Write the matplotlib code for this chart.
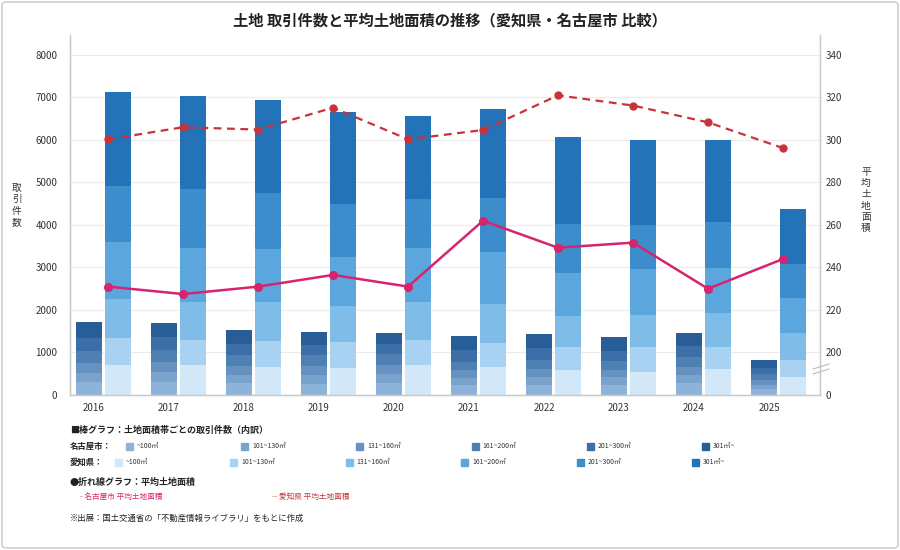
import matplotlib
matplotlib.use("Agg")
import matplotlib.pyplot as plt
from matplotlib.patches import Rectangle, FancyBboxPatch
import numpy as np

plt.rcParams["font.family"] = ["Noto Sans CJK JP", "DejaVu Sans"]

years = ["2016", "2017", "2018", "2019", "2020", "2021", "2022", "2023", "2024", "2025"]
size_bands = ["~100㎡", "101~130㎡", "131~160㎡", "161~200㎡", "201~300㎡", "301㎡~"]

# 名古屋市 取引件数 (面積帯ごと, 下から)
nagoya_100 = [299, 314, 275, 267, 275, 243, 235, 235, 282, 133]
nagoya_130 = [226, 227, 203, 204, 219, 164, 189, 181, 189, 110]
nagoya_160 = [220, 228, 204, 219, 204, 174, 188, 172, 196, 118]
nagoya_200 = [297, 290, 259, 251, 267, 195, 212, 220, 227, 133]
nagoya_300 = [306, 314, 267, 243, 243, 283, 289, 227, 259, 141]
nagoya_301 = [362, 332, 314, 306, 259, 329, 330, 330, 306, 189]

# 愛知県 取引件数
aichi_100 = [706, 698, 659, 635, 706, 659, 588, 541, 612, 416]
aichi_130 = [642, 596, 612, 612, 596, 557, 549, 596, 525, 408]
aichi_160 = [911, 894, 909, 847, 886, 933, 730, 745, 792, 635]
aichi_200 = [1349, 1279, 1255, 1153, 1263, 1224, 1011, 1083, 1059, 831]
aichi_300 = [1310, 1380, 1310, 1247, 1169, 1262, 1153, 1035, 1090, 792]
aichi_301 = [2211, 2188, 2188, 2165, 1937, 2087, 2040, 2000, 1922, 1302]

# 平均土地面積 (㎡)
nagoya_avg = [231.0, 227.5, 231.0, 236.5, 231.0, 262.0, 249.3, 251.7, 230.0, 244.0]
aichi_avg = [300.3, 306.0, 304.9, 315.2, 300.3, 304.7, 321.0, 316.2, 308.3, 296.2]

nagoya_colors = ["#8db3d9", "#79a3cc", "#6592c0", "#4f80b4", "#3c6ea8", "#285d98"]
aichi_colors = ["#d2e7f7", "#a8d1f2", "#80bce8", "#5ba7dd", "#3d8dcd", "#2473b8"]

nagoya_stack = [nagoya_100, nagoya_130, nagoya_160, nagoya_200, nagoya_300, nagoya_301]
aichi_stack = [aichi_100, aichi_130, aichi_160, aichi_200, aichi_300, aichi_301]

fig = plt.figure(figsize=(9, 5.5), dpi=100)
ax = fig.add_axes([70 / 900, 1 - 395 / 550, 750 / 900, 360 / 550])
ax2 = ax.twinx()

x = np.arange(len(years))
w = 0.347

bottom = np.zeros(len(years))
for vals, c in zip(nagoya_stack, nagoya_colors):
    ax.bar(x - 0.067, vals, w, bottom=bottom, color=c, zorder=2)
    bottom += np.array(vals)

bottom = np.zeros(len(years))
for vals, c in zip(aichi_stack, aichi_colors):
    ax.bar(x + 0.32, vals, w, bottom=bottom, color=c, zorder=2)
    bottom += np.array(vals)

ax.set_xlim(-0.32, 9.68)
ax.set_ylim(0, 8470)
ax.set_yticks(range(0, 8001, 1000))
ax.set_xticks(x)
ax.set_xticklabels(years)
ax.grid(axis="y", color="#ebebeb", linewidth=0.8, zorder=0)
ax.set_axisbelow(True)

ax2.plot(x + 0.187, aichi_avg, color="#c8333a", linestyle=(0, (3.5, 2.5)), linewidth=1.6,
         marker="o", markersize=5, zorder=3)
ax2.plot(x + 0.187, nagoya_avg, color="#d6246e", linewidth=1.8,
         marker="o", markersize=5.5, zorder=3)
ax2.set_ylim(180, 180 + 8470 / 50)
ax2.set_yticks([180] + list(range(200, 341, 20)))
ax2.set_yticklabels(["0"] + [str(v) for v in range(200, 341, 20)])

for a in (ax, ax2):
    a.spines["top"].set_visible(False)
    for s in ("left", "right", "bottom"):
        a.spines[s].set_color("#c8c8c8")
        a.spines[s].set_linewidth(0.9)
    a.tick_params(length=0, labelsize=7, colors="#333333")
ax.tick_params(axis="y", pad=9)
ax.tick_params(axis="x", pad=6)
ax2.tick_params(axis="y", pad=4)

# 軸の省略記号
for dy in (0, 5):
    fig.add_artist(plt.Line2D([813 / 900, 829 / 900],
                              [1 - (374 - dy) / 550, 1 - (369 - dy) / 550],
                              color="#bbbbbb", linewidth=0.8))
fig.add_artist(Rectangle((814 / 900, 1 - 374 / 550), 14 / 900, 2.5 / 550,
                         transform=fig.transFigure, color="white", zorder=0))

fig.text(0.5, 1 - 20 / 550, "土地 取引件数と平均土地面積の推移（愛知県・名古屋市 比較）",
         ha="center", va="center", fontsize=11, fontweight="bold", color="#222222")
fig.text(17 / 900, 1 - 205 / 550, "\n".join("取引件数"), ha="center", va="center",
         fontsize=7, color="#333333", linespacing=1.15)
fig.text(866 / 900, 1 - 200 / 550, "\n".join("平均土地面積"), ha="center", va="center",
         fontsize=7, color="#333333", linespacing=1.15)

# 凡例
fig.text(70 / 900, 1 - 430 / 550, "■棒グラフ：土地面積帯ごとの取引件数（内訳）",
         ha="left", va="center", fontsize=6.5, fontweight="bold", color="#222222")
fig.text(70 / 900, 1 - 446 / 550, "名古屋市：", ha="left", va="center",
         fontsize=6, fontweight="bold", color="#222222")
fig.text(70 / 900, 1 - 462 / 550, "愛知県：", ha="left", va="center",
         fontsize=6, fontweight="bold", color="#222222")
for i, (lab, c1, c2) in enumerate(zip(size_bands, nagoya_colors, aichi_colors)):
    px = 126 + i * 115.2
    fig.add_artist(Rectangle((px / 900, 1 - 449.5 / 550), 7 / 900, 7 / 550,
                             transform=fig.transFigure, color=c1))
    fig.text((px + 11) / 900, 1 - 446 / 550, lab, ha="left", va="center",
             fontsize=5, color="#333333")
    px = 115 + i * 115.4
    fig.add_artist(Rectangle((px / 900, 1 - 465.5 / 550), 7 / 900, 7 / 550,
                             transform=fig.transFigure, color=c2))
    fig.text((px + 11) / 900, 1 - 462 / 550, lab, ha="left", va="center",
             fontsize=5, color="#333333")

fig.text(70 / 900, 1 - 482 / 550, "●折れ線グラフ：平均土地面積",
         ha="left", va="center", fontsize=6.5, fontweight="bold", color="#222222")
fig.text(80 / 900, 1 - 497 / 550, "- 名古屋市 平均土地面積", ha="left", va="center",
         fontsize=5.5, color="#d6246e")
fig.text(272 / 900, 1 - 497 / 550, "-- 愛知県 平均土地面積", ha="left", va="center",
         fontsize=5.5, color="#c8333a")
fig.text(70 / 900, 1 - 518 / 550, "※出展：国土交通省の「不動産情報ライブラリ」をもとに作成",
         ha="left", va="center", fontsize=6, color="#222222")

fig.add_artist(FancyBboxPatch((2 / 900, 2 / 550), 896 / 900, 546 / 550,
                              boxstyle="round,pad=0,rounding_size=0.005",
                              transform=fig.transFigure, fill=False,
                              edgecolor="#d0d0d0", linewidth=1.2))

fig.savefig("out.png", dpi=100)
